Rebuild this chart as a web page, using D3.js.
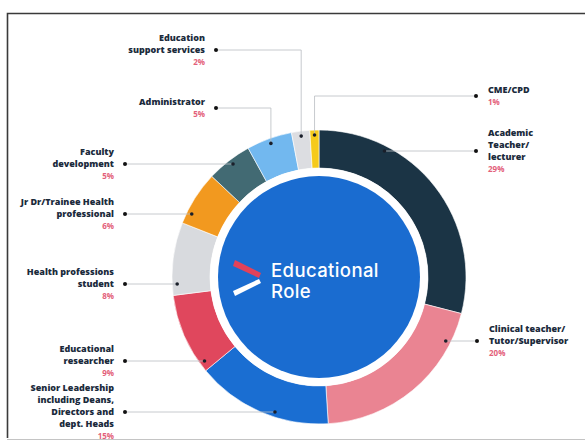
<!DOCTYPE html>
<html>
<head>
<meta charset="utf-8">
<script src="https://cdn.jsdelivr.net/npm/d3@7"></script>
<style>
  body { margin: 0; background: #fff; }
  svg { display: block; }
  .lbl { font-family: "Open Sans", sans-serif; font-weight: 800; font-size: 9px; fill: #1b2b3c; }
  .pct { font-family: "Open Sans", sans-serif; font-weight: 700; font-size: 8px; fill: #e3607a; }
</style>
</head>
<body>
<svg width="585" height="443"></svg>
<script>
// data, clockwise from 12 o'clock
const roles = ["Academic Teacher/lecturer", "Clinical teacher/Tutor/Supervisor",
  "Senior Leadership including Deans, Directors and dept. Heads", "Educational researcher",
  "Health professions student", "Jr Dr/Trainee Health professional", "Faculty development",
  "Administrator", "Education support services", "CME/CPD"];
const shares = [29, 20, 15, 9, 8, 6, 5, 5, 2, 1];
const roleLines = [
  ["Academic", "Teacher/", "lecturer"],
  ["Clinical teacher/", "Tutor/Supervisor"],
  ["Senior Leadership", "including Deans,", "Directors and", "dept. Heads"],
  ["Educational", "researcher"],
  ["Health professions", "student"],
  ["Jr Dr/Trainee Health", "professional"],
  ["Faculty", "development"],
  ["Administrator"],
  ["Education", "support services"],
  ["CME/CPD"]
];
const colors = ["#1b3445", "#ea8492", "#1a6ed2", "#e0475d", "#d8dade", "#f2991f",
  "#426a73", "#72b8ef", "#dcdde1", "#f6ca1b"];

// label layout: side, leader y, label dot x, elbow (leader goes across then down)
const labelSide = ["right", "right", "left", "left", "left", "left", "left", "left", "left", "right"];
const labelY = [151, 341, 412, 361, 284, 214, 164, 108, 50, 96];
const labelDotX = [476, 477, 125, 125, 125, 125, 125, 216, 216, 476];
const elbow = [false, false, false, false, false, false, false, true, true, true];

const cx = 319, cy = 277;
const rOuter = 147, rInner = 109, rCore = 101, rDot = 142;
const lineH = 11.8;

const svg = d3.select("svg");

// frame
svg.append("path").attr("d", "M585,13.5H7.5V438").attr("fill", "none")
  .attr("stroke", "#3a3a3a").attr("stroke-width", 1.6);
svg.append("line").attr("x1", 7).attr("x2", 585).attr("y1", 439.5).attr("y2", 439.5)
  .attr("stroke", "#c4c4c4").attr("stroke-width", 1.2);

const pie = d3.pie().value(d => d).sort(null);
const arcs = pie(shares);
const arc = d3.arc().innerRadius(rInner).outerRadius(rOuter);

const g = svg.append("g").attr("transform", `translate(${cx},${cy})`);
g.selectAll("path.slice").data(arcs).enter().append("path")
  .attr("class", "slice")
  .attr("d", arc)
  .attr("fill", (d, i) => colors[i])
  .attr("stroke", "#fff").attr("stroke-width", 0.6);

g.append("circle").attr("r", rInner).attr("fill", "#fff");
g.append("circle").attr("r", rCore).attr("fill", "#1a6cd0");

// chevron logo
g.append("polygon").attr("points", "-86,-11 -84,-17 -58,-4 -60,1").attr("fill", "#e2425a");
g.append("polygon").attr("points", "-60,2 -58,6 -84,19 -86,14").attr("fill", "#fff");

const title = g.append("text")
  .style("font-family", "Inter, 'Open Sans', sans-serif")
  .style("font-weight", 500).style("font-size", "18.5px").style("letter-spacing", "0.4px")
  .attr("fill", "#fff");
title.append("tspan").attr("x", -48).attr("y", 0).text("Educational");
title.append("tspan").attr("x", -48).attr("y", 21).text("Role");

// slice anchor points
function slicePoint(d, i) {
  if (elbow[i]) {
    const a = (d.startAngle + d.endAngle) / 2;
    return [cx + rDot * Math.sin(a), cy - rDot * Math.cos(a)];
  }
  const dy = labelY[i] - cy;
  const dx = Math.sqrt(Math.max(0, rDot * rDot - dy * dy));
  return [labelSide[i] === "right" ? cx + dx : cx - dx, labelY[i]];
}

const leaders = svg.append("g");
arcs.forEach((d, i) => {
  const [px, py] = slicePoint(d, i);
  const lx = labelDotX[i], ly = labelY[i];
  const path = elbow[i] ? `M${lx},${ly}H${px}V${py}` : `M${lx},${ly}H${px}`;
  leaders.append("path").attr("d", path).attr("fill", "none")
    .attr("stroke", "#b9bcc2").attr("stroke-width", 0.8);
  leaders.append("circle").attr("cx", lx).attr("cy", ly).attr("r", 2).attr("fill", "#111");
  leaders.append("circle").attr("cx", px).attr("cy", py).attr("r", 1.8).attr("fill", "#1a1f2a");

  // label block centred on the leader
  const lines = roleLines[i];
  const n = lines.length + 1;
  const top = ly - (n - 1) * lineH / 2;
  const right = labelSide[i] === "right";
  const tx = right ? lx + 12 : lx - 11;
  const anchor = right ? "start" : "end";
  lines.forEach((t, k) => {
    svg.append("text").attr("class", "lbl").attr("x", tx).attr("y", top + k * lineH + 3)
      .attr("text-anchor", anchor).text(t);
  });
  svg.append("text").attr("class", "pct").attr("x", tx).attr("y", top + lines.length * lineH + 3)
    .attr("text-anchor", anchor).text(shares[i] + "%");
});
</script>
</body>
</html>
